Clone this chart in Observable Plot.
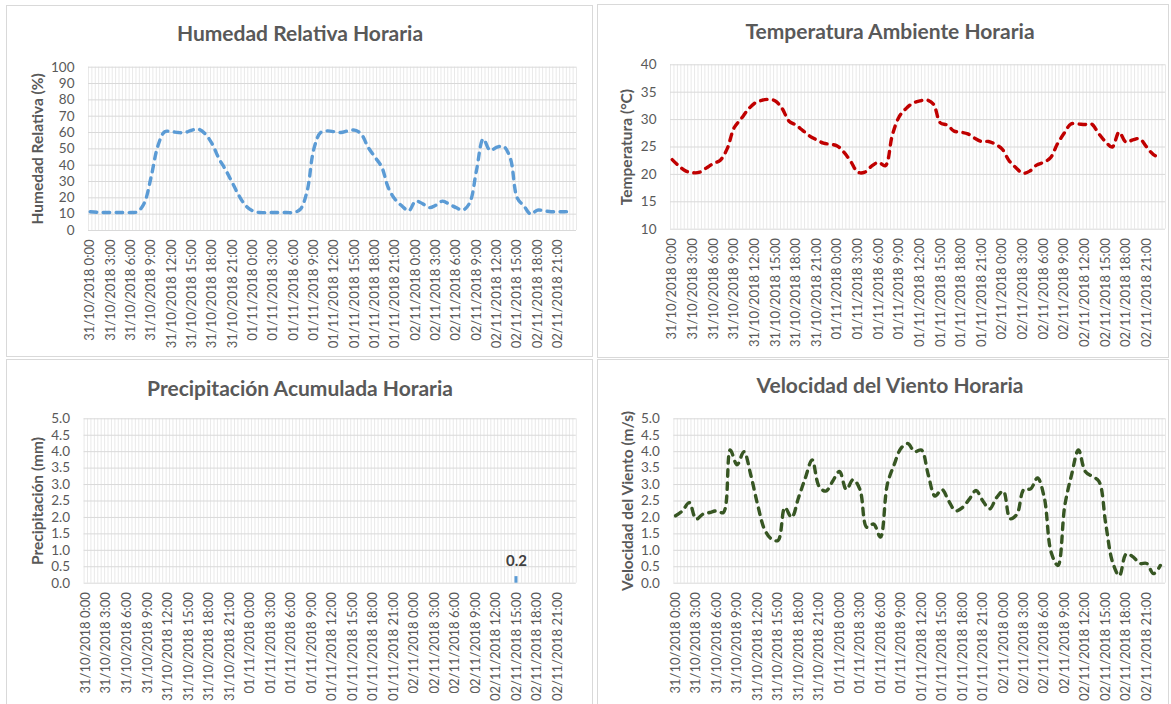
<!DOCTYPE html>
<html><head><meta charset="utf-8">
<script src="https://cdn.jsdelivr.net/npm/d3@7"></script>
<script src="https://cdn.jsdelivr.net/npm/@observablehq/plot@0.6"></script>
<style>
body{margin:0;background:#fff;font-family:Lato,sans-serif;}
#root{position:relative;width:1171px;height:704px;overflow:hidden;background:#fff;}
.panel{position:absolute;border:1px solid #D9D9D9;box-sizing:border-box;}
.title{position:absolute;font-family:Lato,sans-serif;font-weight:bold;font-size:21px;color:#595959;line-height:21px;white-space:nowrap;transform:translateX(-50%);}
.chart{position:absolute;}
</style></head><body><div id="root"></div>
<script>
// Hour index of each hourly record (0 = 31/10/2018 0:00)
const hourIndex = d3.range(72);

const humidity = [11.5,11.2,11,11,11,11,11,11.5,17,33,52,60.5,60.5,60,60,61.5,62,59,53,44,37,29,21,15,
  12,11,11,11,11,11,11,13,24,50,60,61,60.5,60,61,61.5,59,51,45,39,26,19,15,12,
  18,16.5,14,15.5,18,16,14,12.5,17,37,56,49,51,51.5,44,20,15,10,12.5,12,11.5,11.5,11.5,11.7];

const temperature = [22.7,21.5,20.6,20.3,20.4,21.2,22.0,22.6,24.7,28.5,30.1,31.8,33.0,33.5,33.7,33.4,32.0,29.7,29.0,28.0,27.0,26.3,25.7,25.5,
  25.2,24.0,22.3,20.4,20.4,21.5,22.2,21.6,27.1,30.5,32.0,33.0,33.4,33.6,32.8,29.4,29.0,27.9,27.7,27.4,26.6,26.0,26.0,25.5,
  24.6,22.5,21.2,20.2,20.6,21.7,22.2,23.0,25.5,27.5,29.2,29.2,29.1,29.2,27.5,26.0,25.0,27.7,25.9,26.3,26.5,25.0,23.6,23.0];

const precipitation = [0,0,0,0,0,0,0,0,0,0,0,0,0,0,0,0,0,0,0,0,0,0,0,0,
  0,0,0,0,0,0,0,0,0,0,0,0,0,0,0,0,0,0,0,0,0,0,0,0,
  0,0,0,0,0,0,0,0,0,0,0,0,0,0,0,0.2,0,0,0,0,0,0,0,0];

const windSpeed = [2.05,2.2,2.45,1.95,2.1,2.15,2.2,2.15,4.05,3.6,4.0,3.3,2.4,1.65,1.35,1.3,2.3,2.0,2.6,3.2,3.75,2.95,2.8,3.1,
  3.4,2.85,3.15,2.85,1.7,1.8,1.4,3.0,3.6,4.1,4.25,4.0,4.05,3.3,2.65,2.85,2.5,2.2,2.3,2.55,2.82,2.5,2.26,2.6,
  2.8,1.96,2.1,2.85,2.87,3.2,2.6,0.94,0.54,2.36,3.3,4.05,3.4,3.25,3.1,1.8,0.64,0.23,0.89,0.8,0.6,0.6,0.29,0.54];

const xTickHours = [0,3,6,9,12,15,18,21,24,27,30,33,36,39,42,45,48,51,54,57,60,63,66,69];
const xTickLabels = ["31/10/2018 0:00","31/10/2018 3:00","31/10/2018 6:00","31/10/2018 9:00","31/10/2018 12:00","31/10/2018 15:00","31/10/2018 18:00","31/10/2018 21:00",
  "01/11/2018 0:00","01/11/2018 3:00","01/11/2018 6:00","01/11/2018 9:00","01/11/2018 12:00","01/11/2018 15:00","01/11/2018 18:00","01/11/2018 21:00",
  "02/11/2018 0:00","02/11/2018 3:00","02/11/2018 6:00","02/11/2018 9:00","02/11/2018 12:00","02/11/2018 15:00","02/11/2018 18:00","02/11/2018 21:00"];

const humidityTicks = [0,10,20,30,40,50,60,70,80,90,100];
const temperatureTicks = [10,15,20,25,30,35,40];
const precipitationTicks = [0,0.5,1,1.5,2,2.5,3,3.5,4,4.5,5];
const windTicks = [0,0.5,1,1.5,2,2.5,3,3.5,4,4.5,5];

const root = document.getElementById("root");

function addBox(l, t, w, h) {
  const d = document.createElement("div");
  d.className = "panel";
  Object.assign(d.style, {left: l + "px", top: t + "px", width: w + "px", height: h + "px"});
  root.appendChild(d);
}
function addTitle(text, cx, top) {
  const d = document.createElement("div");
  d.className = "title";
  d.textContent = text;
  Object.assign(d.style, {left: cx + "px", top: top + "px"});
  root.appendChild(d);
}

function makeChart(cfg) {
  const rows = hourIndex.map((h, i) => ({h, v: cfg.values[i]}));
  const minor = d3.range(145).map(k => -0.25 + k * 0.5);
  const marks = [
    Plot.gridX(minor, {stroke: "#E9E9E9", strokeOpacity: 1}),
    Plot.gridY(cfg.yTicks, {stroke: "#D9D9D9", strokeOpacity: 1}),
    Plot.axisX(xTickHours, {tickSize: 0, tickRotate: -90, tickPadding: 9, label: null,
      tickFormat: d => xTickLabels[xTickHours.indexOf(d)], fontSize: 13, fill: "#595959"}),
    Plot.axisY(cfg.yTicks, {tickSize: 0, tickPadding: 14, label: null,
      tickFormat: cfg.yFormat, fontSize: 13.5, fill: "#595959"}),
    Plot.text([cfg.yLabel], {frameAnchor: "left", rotate: -90, dx: cfg.yLabelDx, textAnchor: "middle",
      text: d => d, fontWeight: "bold", fontSize: 15.5, fill: "#595959"}),
    ...cfg.marks(rows)
  ];
  const svg = Plot.plot({
    width: cfg.width, height: cfg.height,
    marginLeft: cfg.m[0], marginRight: cfg.m[1], marginTop: cfg.m[2], marginBottom: cfg.m[3],
    x: {type: "linear", domain: [-0.25, 71.75]},
    y: {domain: cfg.yDomain},
    style: {fontFamily: "Lato, sans-serif", background: "transparent", overflow: "visible"},
    marks
  });
  svg.classList.add("chart");
  svg.style.left = cfg.left + "px";
  svg.style.top = cfg.top + "px";
  svg.style.position = "absolute";
  root.appendChild(svg);
}

const dashed = (color) => rows => [
  Plot.line(rows, {x: "h", y: "v", stroke: color, strokeWidth: 3.4, strokeDasharray: "6.5,6.5",
    strokeLinecap: "round", curve: "catmull-rom"})
];

addBox(6, 5, 587, 352);
addBox(597, 4, 572, 354);
addBox(6, 359, 587, 350);
addBox(597, 359, 572, 350);

addTitle("Humedad Relativa Horaria", 300, 22);
addTitle("Temperatura Ambiente Horaria", 890, 20);
addTitle("Precipitación Acumulada Horaria", 300, 376.5);
addTitle("Velocidad del Viento Horaria", 890, 373.5);

makeChart({left: 6, top: 50, width: 587, height: 307, m: [82, 17, 16.7, 127],
  values: humidity, yDomain: [0, 100], yTicks: humidityTicks, yFormat: d => d,
  yLabel: "Humedad Relativa (%)", yLabelDx: -50.4, marks: dashed("#5B9BD5")});

makeChart({left: 597, top: 50, width: 571, height: 308, m: [73, 3, 14.3, 129.3],
  values: temperature, yDomain: [10, 40], yTicks: temperatureTicks, yFormat: d => d,
  yLabel: "Temperatura (°C)", yLabelDx: -43, marks: dashed("#C00000")});

makeChart({left: 6, top: 405, width: 587, height: 299, m: [77.6, 17.2, 13.3, 121.3],
  values: precipitation, yDomain: [0, 5], yTicks: precipitationTicks, yFormat: d => d.toFixed(1),
  yLabel: "Precipitación (mm)", yLabelDx: -46,
  marks: rows => {
    const wet = rows.filter(d => d.v > 0);
    return [
      Plot.rect(wet, {x1: d => d.h - 0.22, x2: d => d.h + 0.22, y1: 0, y2: "v", fill: "#5B9BD5"}),
      Plot.text(wet, {x: "h", y: "v", text: d => d.v.toFixed(1), dy: -11, lineAnchor: "bottom",
        fontWeight: "bold", fontSize: 15, fill: "#404040"})
    ];
  }});

makeChart({left: 597, top: 405, width: 571, height: 299, m: [76.4, 3, 13.3, 121.3],
  values: windSpeed, yDomain: [0, 5], yTicks: windTicks, yFormat: d => d.toFixed(1),
  yLabel: "Velocidad del Viento (m/s)", yLabelDx: -45.4, marks: dashed("#375623")});
</script>
</body></html>
